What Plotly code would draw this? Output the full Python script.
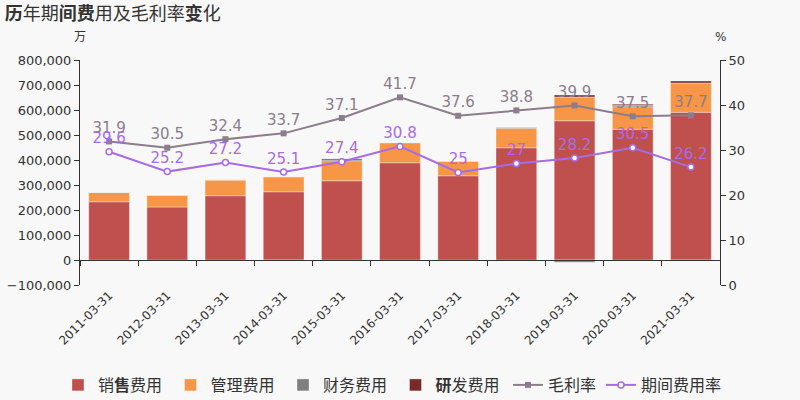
import plotly.graph_objects as go

categories = ["2011-03-31", "2012-03-31", "2013-03-31", "2014-03-31", "2015-03-31",
              "2016-03-31", "2017-03-31", "2018-03-31", "2019-03-31", "2020-03-31", "2021-03-31"]
sales = [233000, 212000, 257000, 273000, 317000, 389000, 337000, 449000, 557000, 523000, 591000]
mgmt = [37000, 46000, 63000, 60000, 80000, 80000, 58000, 78000, 95000, 90000, 117000]
finance = [1000, 2000, 1000, -3000, 9000, 1000, 1000, 4000, -9000, 5000, -2000]
research = [0, 0, 0, 0, 0, 0, 0, 0, 8000, 5000, 8000]
gross_margin = [31.9, 30.5, 32.4, 33.7, 37.1, 41.7, 37.6, 38.8, 39.9, 37.5, 37.7]
expense_rate = [29.6, 25.2, 27.2, 25.1, 27.4, 30.8, 25, 27, 28.2, 30.5, 26.2]
left_ticks = [-100000, 0, 100000, 200000, 300000, 400000, 500000, 600000, 700000, 800000]

FONT = "DejaVu Sans, Noto Sans CJK SC, sans-serif"
bar_line = dict(color="rgba(255,255,255,0.35)", width=1)

fig = go.Figure()
fig.add_bar(x=categories, y=sales, name="销<b>售</b>费用", marker=dict(color="#C0504D", line=bar_line), width=0.7)
fig.add_bar(x=categories, y=mgmt, name="管理费用", marker=dict(color="#F79646", line=bar_line), width=0.7)
fig.add_bar(x=categories, y=finance, name="财务费用", marker=dict(color="#7F7F7F", line=bar_line), width=0.7)
fig.add_bar(x=categories, y=research, name="<b>研</b>发费用", marker=dict(color="#772C2A", line=bar_line), width=0.7)

fig.add_scatter(x=categories, y=gross_margin, name="毛利率", yaxis="y2", legend="legend2",
                mode="lines+markers+text",
                line=dict(color="#8C7D8C", width=2),
                marker=dict(symbol="square", size=6, color="#8C7D8C"),
                text=[str(v) for v in gross_margin], textposition="top center",
                textfont=dict(color="#8C7D8C", size=15, family=FONT))
fig.add_scatter(x=categories, y=expense_rate, name="期间费用率", yaxis="y2", legend="legend2",
                mode="lines+markers+text",
                line=dict(color="#A86BE6", width=2),
                marker=dict(symbol="circle", size=6, color="white", line=dict(color="#A86BE6", width=1.5)),
                text=[str(v) for v in expense_rate], textposition="top center",
                textfont=dict(color="#A86BE6", size=15, family=FONT))
# helper trace for the zero-level category axis with boundary ticks
fig.add_scatter(x=categories, y=[None] * len(categories), xaxis="x2", showlegend=False,
                hoverinfo="skip", mode="lines")

legend_common = dict(orientation="h", xref="container", yref="container", xanchor="left",
                     y=0.0375, yanchor="middle",
                     font=dict(size=16, color="#333333"), itemwidth=30, traceorder="normal",
                     bgcolor="rgba(0,0,0,0)")

fig.update_layout(
    width=800, height=400,
    paper_bgcolor="#F8F8F8", plot_bgcolor="#F8F8F8",
    barmode="relative", bargap=0.3,
    font=dict(family=FONT, color="#333333", size=13),
    margin=dict(l=80, r=80, t=60, b=115, autoexpand=False),
    title=dict(text="<b>历</b>年期<b>间费</b>用及毛利率<b>变</b>化", x=0.006, xanchor="left",
               y=0.965, yanchor="middle", yref="container", font=dict(size=18, color="#333333")),
    xaxis=dict(type="category", categoryarray=categories, range=[-0.5, 10.5], automargin=False,
               showline=False, ticks="", tickangle=-45, showgrid=False,
               tickfont=dict(size=12, color="#333333")),
    xaxis2=dict(type="category", categoryarray=categories, range=[-0.5, 10.5], automargin=False,
                overlaying="x", anchor="free", position=1 / 9, showline=True,
                linecolor="#333333", linewidth=1, ticks="outside", tickson="boundaries",
                ticklen=5, tickcolor="#333333", showticklabels=False, showgrid=False),
    yaxis=dict(range=[-100000, 800000], tickvals=left_ticks, tickformat=",", showgrid=False,
               showline=True, linecolor="#333333", ticks="outside", ticklen=5, tickcolor="#333333",
               zeroline=False, automargin=False, tickfont=dict(size=13)),
    yaxis2=dict(range=[0, 50], dtick=10, overlaying="y", side="right", showgrid=False,
                showline=True, linecolor="#333333", ticks="outside", ticklen=5, tickcolor="#333333",
                zeroline=False, automargin=False, tickfont=dict(size=13)),
    legend=dict(legend_common, x=58 / 800, entrywidthmode="pixels", entrywidth=67.5),
    legend2=dict(legend_common, x=508 / 800),
    annotations=[
        dict(text="万", xref="paper", yref="paper", x=0, y=1, xanchor="center", yanchor="bottom",
             yshift=14, showarrow=False, font=dict(size=12, color="#333333")),
        dict(text="%", xref="paper", yref="paper", x=1, y=1, xanchor="center", yanchor="bottom",
             yshift=14, showarrow=False, font=dict(size=12, color="#333333")),
    ],
)

fig.write_html("out.html", config={"displayModeBar": False},
               post_script="document.body.style.margin='0';")
